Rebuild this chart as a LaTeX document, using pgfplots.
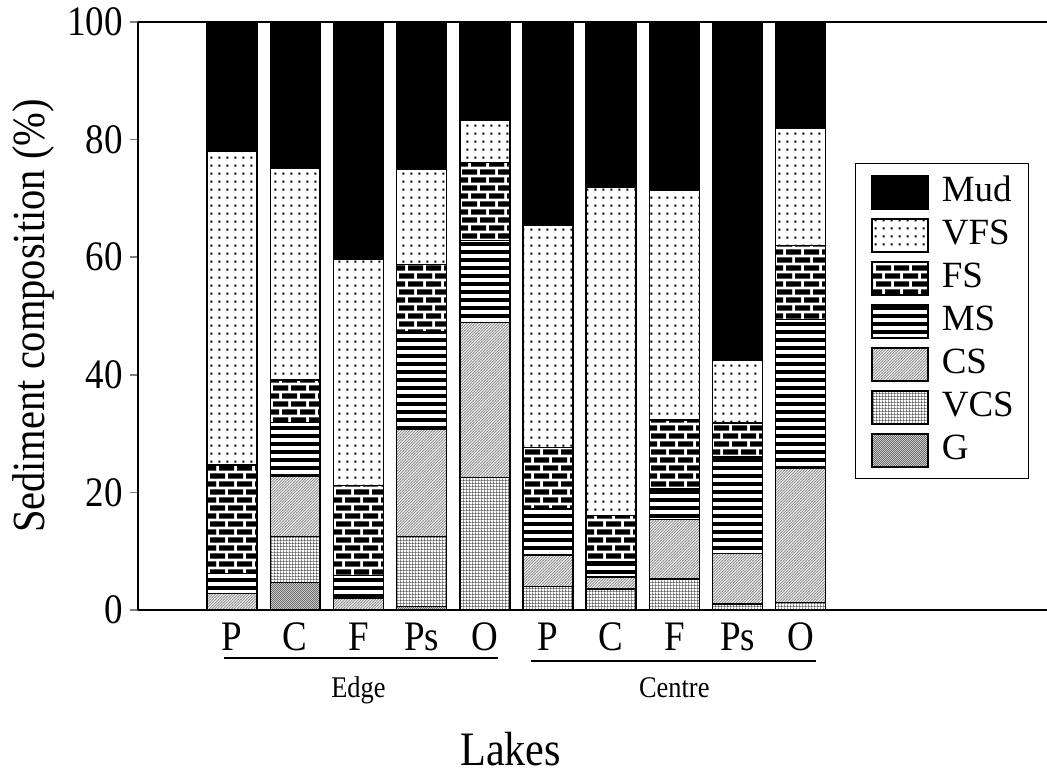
\documentclass[border=0pt]{standalone}
\usepackage{fontspec}
\setmainfont{Liberation Serif}
\newfontfamily\lab[FakeStretch=0.88]{Liberation Serif}
\usepackage{pgfplots}
\pgfplotsset{compat=1.18}
\usepackage{pgfplotstable}
\usetikzlibrary{patterns}

% fill patterns for the sediment fractions
\pgfdeclarepatternformonly{vfsdots}{\pgfqpoint{0pt}{0pt}}{\pgfqpoint{4pt}{4pt}}{\pgfqpoint{4pt}{4pt}}{%
  \pgfpathrectangle{\pgfqpoint{1.4pt}{1.4pt}}{\pgfqpoint{1.1pt}{1.1pt}}\pgfusepath{fill}}
\pgfdeclarepatternformonly{fsbricks}{\pgfqpoint{-0.3pt}{0pt}}{\pgfqpoint{36.3pt}{8pt}}{\pgfqpoint{36pt}{8pt}}{%
  \pgfpathrectangle{\pgfqpoint{-0.3pt}{0.7pt}}{\pgfqpoint{0.3pt}{2.6pt}}%
  \pgfpathrectangle{\pgfqpoint{1.5pt}{0.7pt}}{\pgfqpoint{7.5pt}{2.6pt}}%
  \pgfpathrectangle{\pgfqpoint{10.5pt}{0.7pt}}{\pgfqpoint{7.5pt}{2.6pt}}%
  \pgfpathrectangle{\pgfqpoint{19.5pt}{0.7pt}}{\pgfqpoint{7.5pt}{2.6pt}}%
  \pgfpathrectangle{\pgfqpoint{28.5pt}{0.7pt}}{\pgfqpoint{7.5pt}{2.6pt}}%
  \pgfpathrectangle{\pgfqpoint{-0.3pt}{4.7pt}}{\pgfqpoint{4.8pt}{2.6pt}}%
  \pgfpathrectangle{\pgfqpoint{6pt}{4.7pt}}{\pgfqpoint{7.5pt}{2.6pt}}%
  \pgfpathrectangle{\pgfqpoint{15pt}{4.7pt}}{\pgfqpoint{7.5pt}{2.6pt}}%
  \pgfpathrectangle{\pgfqpoint{24pt}{4.7pt}}{\pgfqpoint{7.5pt}{2.6pt}}%
  \pgfpathrectangle{\pgfqpoint{33pt}{4.7pt}}{\pgfqpoint{3.3pt}{2.6pt}}%
  \pgfusepath{fill}}
\pgfdeclarepatternformonly{msstripes}{\pgfqpoint{-0.5pt}{0pt}}{\pgfqpoint{100.5pt}{4pt}}{\pgfqpoint{100pt}{4pt}}{%
  \pgfpathrectangle{\pgfqpoint{-0.5pt}{0.9pt}}{\pgfqpoint{101pt}{2.2pt}}\pgfusepath{fill}}
\pgfdeclarepatternformonly{csdiag}{\pgfqpoint{-0.5pt}{-0.5pt}}{\pgfqpoint{1.9pt}{1.9pt}}{\pgfqpoint{1.4pt}{1.4pt}}{%
  \pgfsetlinewidth{0.35pt}\pgfpathmoveto{\pgfqpoint{-0.2pt}{-0.2pt}}\pgfpathlineto{\pgfqpoint{1.6pt}{1.6pt}}\pgfusepath{stroke}}
\pgfdeclarepatternformonly{vcsgrid}{\pgfqpoint{0pt}{0pt}}{\pgfqpoint{1.6pt}{1.6pt}}{\pgfqpoint{1.6pt}{1.6pt}}{%
  \pgfpathrectangle{\pgfqpoint{0pt}{0pt}}{\pgfqpoint{1.6pt}{0.4pt}}%
  \pgfpathrectangle{\pgfqpoint{0pt}{0pt}}{\pgfqpoint{0.4pt}{1.6pt}}\pgfusepath{fill}}
\pgfdeclarepatternformonly{gstipple}{\pgfqpoint{0pt}{0pt}}{\pgfqpoint{1.2pt}{1.2pt}}{\pgfqpoint{1.2pt}{1.2pt}}{%
  \pgfpathrectangle{\pgfqpoint{0pt}{0pt}}{\pgfqpoint{0.6pt}{0.6pt}}%
  \pgfpathrectangle{\pgfqpoint{0.6pt}{0.6pt}}{\pgfqpoint{0.6pt}{0.6pt}}\pgfusepath{fill}}

% sediment composition (%) per lake; 0-4 edge, 5-9 centre
\pgfplotstableread{
x  G    VCS   CS    MS    FS    VFS   Mud
0  0.0  0.0   2.8   3.4   18.5  53.3  22.0
1  4.7  7.8   10.2  9.2   7.2   36.0  24.9
2  0.0  0.0   2.0   3.9   15.3  38.4  40.4
3  0.6  11.9  18.3  16.6  11.4  16.1  25.1
4  0.0  22.5  26.4  13.9  13.3  7.2   16.7
5  0.0  4.0   5.3   7.9   10.4  37.8  34.6
6  0.0  3.6   2.0   2.6   7.9   55.8  28.1
7  0.0  5.3   10.1  5.2   11.7  39.1  28.3
8  0.0  1.0   8.6   16.4  5.8   10.7  57.5
9  0.0  1.3   22.8  25.3  12.6  19.9  17.8
}\sediment

\begin{document}
\begin{tikzpicture}
\begin{axis}[
  scale only axis,
  width=454.5pt, height=294pt,
  xmin=-1.49, xmax=12.9,
  ymin=0, ymax=100,
  ybar stacked,
  bar width=0.79,
  axis x line*=box,
  axis y line*=left,
  axis line style={-, line width=0.75pt},
  xtick={0,...,9},
  xticklabels={P,C,F,Ps,O,P,C,F,Ps,O},
  xtick style={draw=none},
  xticklabel style={anchor=base, yshift=-16pt, font=\lab\fontsize{21}{21}\selectfont},
  ytick={0,20,...,100},
  ytick style={line width=0.75pt},
  tick align=outside,
  major tick length=4pt,
  yticklabel style={font=\lab\fontsize{21}{21}\selectfont},
  /pgf/number format/assume math mode=true,
  ylabel={Sediment composition (\%)},
  ylabel style={at={(axis description cs:-0.1155,0.5)}, anchor=center, font=\lab\fontsize{23}{23}\selectfont},
  xlabel={Lakes},
  xlabel style={at={(axis description cs:0.41,0)}, anchor=base, yshift=-77.5pt, font=\lab\fontsize{24}{24}\selectfont},
  clip=false,
  reverse legend,
  legend image code/.code={\draw[#1, line width=1pt] (0pt,-3.5pt) rectangle (28pt,13pt);},
  legend style={at={(0.789,0.76)}, anchor=north west, draw=black, line width=0.6pt,
    font=\fontsize{18.5}{18.5}\selectfont, inner xsep=7.5pt, inner ysep=5.5pt,
    column sep=6.5pt, row sep=4pt,
    cells={anchor=base west},
    nodes={inner sep=0pt, text height=13pt, text depth=3.5pt}},
  every axis plot/.append style={draw=black, line width=0.75pt},
]
\addplot[fill=gray!25, postaction={pattern=gstipple, pattern color=black!60}] table[x=x, y=G] {\sediment};
\addplot[fill=white, postaction={pattern=vcsgrid, pattern color=black!70}] table[x=x, y=VCS] {\sediment};
\addplot[fill=gray!8, postaction={pattern=csdiag, pattern color=black!45}] table[x=x, y=CS] {\sediment};
\addplot[fill=white, postaction={pattern=msstripes, pattern color=black}] table[x=x, y=MS] {\sediment};
\addplot[fill=white, postaction={pattern=fsbricks, pattern color=black}] table[x=x, y=FS] {\sediment};
\addplot[fill=white, postaction={pattern=vfsdots, pattern color=black}] table[x=x, y=VFS] {\sediment};
\addplot[fill=black] table[x=x, y=Mud] {\sediment};
\legend{G,VCS,CS,MS,FS,VFS,Mud}

% group underlines and names
\draw[line width=1pt] (axis cs:-0.13,-8.2) -- (axis cs:4.21,-8.2);
\draw[line width=1pt] (axis cs:4.73,-8.6) -- (axis cs:9.24,-8.6);
\node[anchor=base, font=\lab\fontsize{15}{15}\selectfont] at (axis cs:2,0) [yshift=-43.5pt] {Edge};
\node[anchor=base, font=\lab\fontsize{15}{15}\selectfont] at (axis cs:7,0) [yshift=-43.5pt] {Centre};
\end{axis}
\pgfresetboundingbox
\useasboundingbox (-69pt,-83pt) rectangle (454.5pt,305pt);
\end{tikzpicture}
\end{document}
